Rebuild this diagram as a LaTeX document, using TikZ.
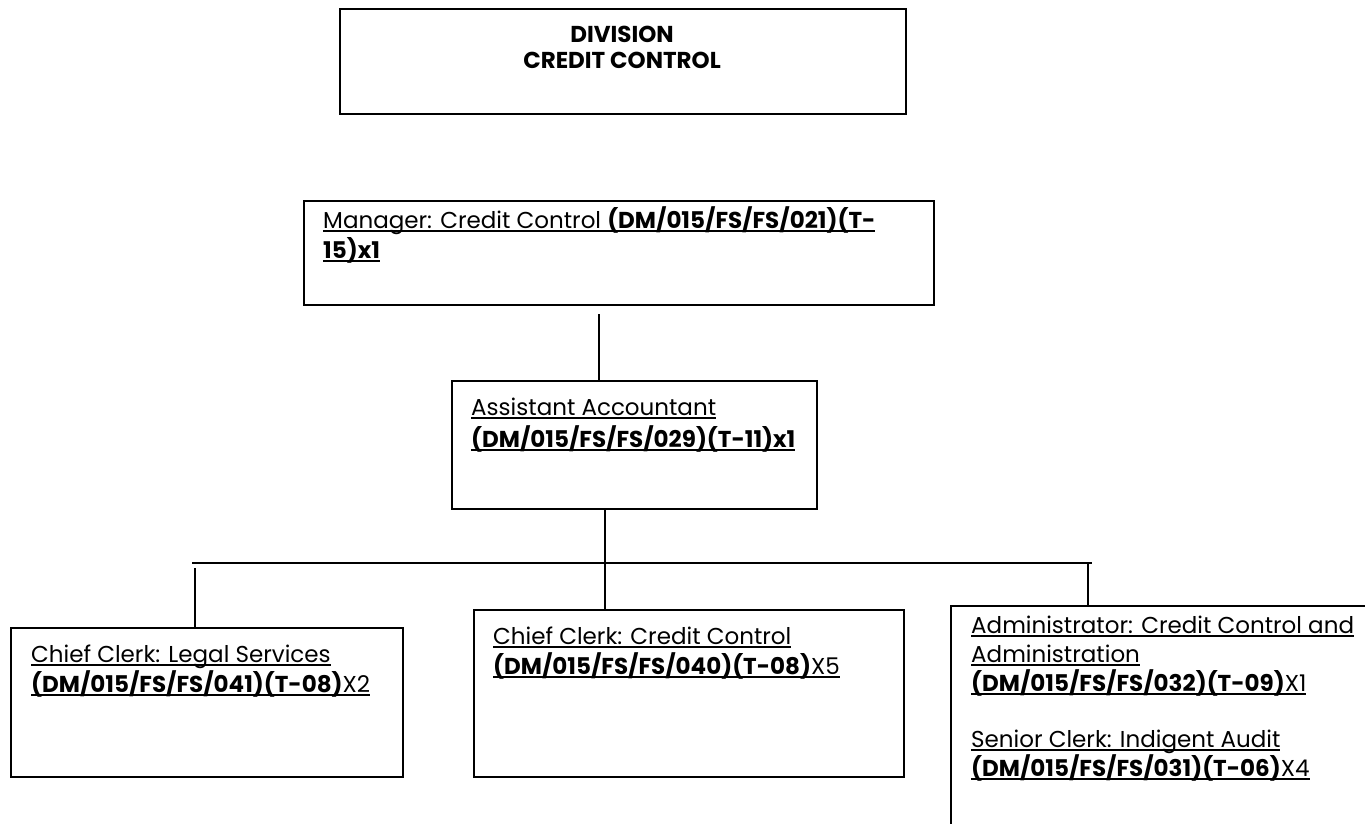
\documentclass[tikz,border=0pt]{standalone}
\usepackage{fontspec}
\setmainfont{Poppins}
\newsavebox\ulbox
\newcommand\ulx[1]{\sbox\ulbox{#1}\rlap{\rule[-4pt]{\wd\ulbox}{1.8pt}}\usebox\ulbox}
\begin{document}
\begin{tikzpicture}[x=1pt,y=-1pt,
  box/.style={draw, line width=1.8pt, inner sep=0pt, anchor=north west},
  txt/.style={anchor=base west, inner sep=0pt, font=\fontsize{23}{27}\selectfont},
  ttl/.style={anchor=base, inner sep=0pt, font=\fontsize{23}{27}\selectfont\bfseries},
  conn/.style={line width=1.6pt}]
\useasboundingbox (0,0) rectangle (1365,823);
\clip (0,0) rectangle (1365,823);
% boxes
\node[box, minimum width=566pt, minimum height=105pt] (div) at (339,8) {};
\node[box, minimum width=630pt, minimum height=104pt] (mgr) at (303,200) {};
\node[box, minimum width=365pt, minimum height=128pt] (asst) at (451,380) {};
\node[box, minimum width=392pt, minimum height=149pt] (left) at (10,627) {};
\node[box, minimum width=430pt, minimum height=167pt] (mid) at (473,609) {};
\node[box, minimum width=460pt, minimum height=260pt] (right) at (950,605) {};
% texts
\node[ttl] (t1) at (622,42) {DIVISION};
\node[ttl] (t2) at (622,68) {CREDIT CONTROL};
\node[txt] (m1t) at (323,228) {\ulx{Manager: Credit Control \textbf{(DM/015/FS/FS/021)(T-}}};
\node[txt] (m2t) at (323,258) {\ulx{\textbf{15)x1}}};
\node[txt] (a1t) at (471,415) {\ulx{Assistant Accountant}};
\node[txt] (a2t) at (471,447) {\ulx{\textbf{(DM/015/FS/FS/029)(T-11)x1}}};
\node[txt] (l1t) at (31,662) {\ulx{Chief Clerk: Legal Services}};
\node[txt] (l2t) at (31,692) {\ulx{\textbf{(DM/015/FS/FS/041)(T-08)}X2}};
\node[txt] (c1t) at (493,644) {\ulx{Chief Clerk: Credit Control}};
\node[txt] (c2t) at (493,674) {\ulx{\textbf{(DM/015/FS/FS/040)(T-08)}X5}};
\node[txt] (r1t) at (971,633) {\ulx{Administrator: Credit Control and}};
\node[txt] (r2t) at (971,662) {\ulx{Administration}};
\node[txt] (r3t) at (971,691) {\ulx{\textbf{(DM/015/FS/FS/032)(T-09)}X1}};
\node[txt] (r4t) at (971,747) {\ulx{Senior Clerk: Indigent Audit}};
\node[txt] (r5t) at (971,776) {\ulx{\textbf{(DM/015/FS/FS/031)(T-06)}X4}};
% connectors
\coordinate (busL) at (192,563);
\coordinate (busR) at (1092,563);
\coordinate (mc) at (599,314);
\coordinate (ac) at (605,508);
\coordinate (lc) at (195,568);
\coordinate (rc) at (1088,564);
\draw[conn] (mc) -- (mc |- asst.north);
\draw[conn] (busL) -- (busR);
\draw[conn] (ac) -- (ac |- mid.north);
\draw[conn] (lc) -- (lc |- left.north);
\draw[conn] (rc) -- (rc |- right.north);
\end{tikzpicture}
\end{document}
